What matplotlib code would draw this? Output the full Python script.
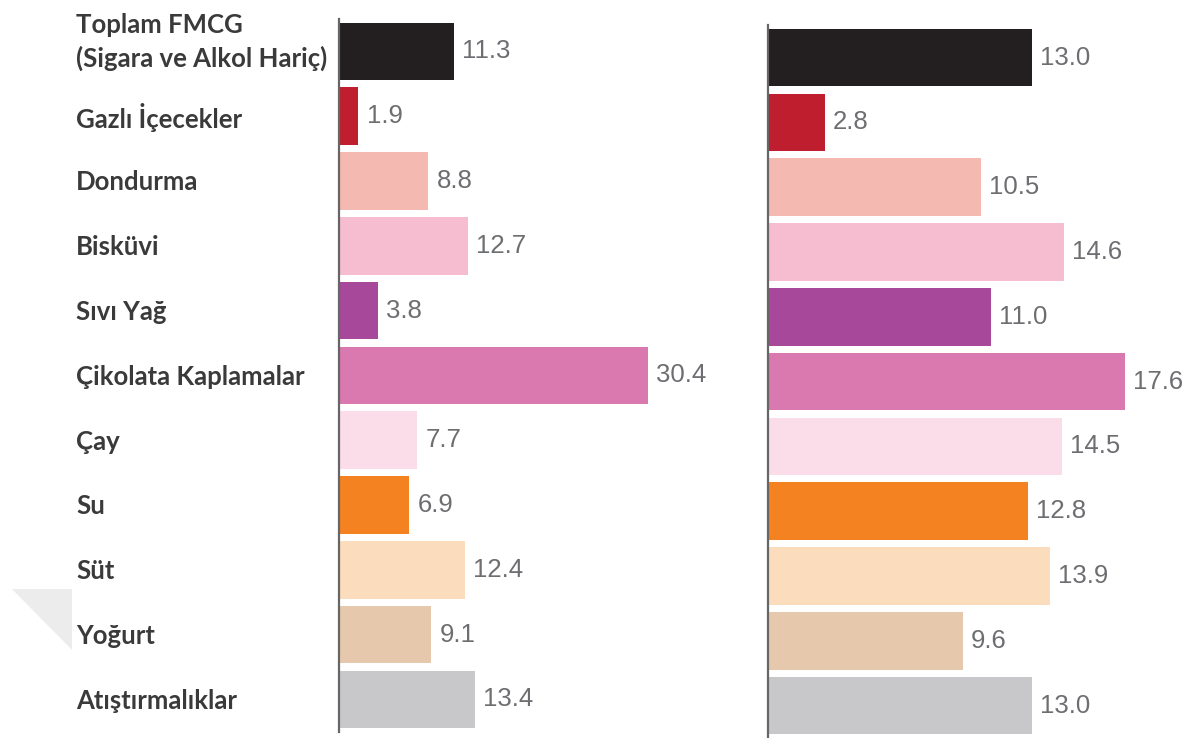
import matplotlib
matplotlib.use("Agg")
import matplotlib.pyplot as plt
from matplotlib.patches import Polygon
from matplotlib.transforms import blended_transform_factory

categories = ["Toplam FMCG\n(Sigara ve Alkol Hariç)", "Gazlı İçecekler", "Dondurma", "Bisküvi",
              "Sıvı Yağ", "Çikolata Kaplamalar", "Çay", "Su", "Süt", "Yoğurt", "Atıştırmalıklar"]
left_values = [11.3, 1.9, 8.8, 12.7, 3.8, 30.4, 7.7, 6.9, 12.4, 9.1, 13.4]
right_values = [13.0, 2.8, 10.5, 14.6, 11.0, 17.6, 14.5, 12.8, 13.9, 9.6, 13.0]
colors = ["#231f20", "#be1e2d", "#f4b9b0", "#f6bccf", "#a8489a", "#d979b0",
          "#fbdde9", "#f58220", "#fbdcbd", "#e6c9ad", "#c8c8ca"]

W, H = 1192, 738
fig = plt.figure(figsize=(W / 100, H / 100), dpi=100)

# faint decorative triangle bottom-left
fig.patches.append(Polygon([(12 / W, 1 - 589 / H), (72 / W, 1 - 589 / H), (72 / W, 1 - 650 / H)],
                           closed=True, transform=fig.transFigure, facecolor="#ececec",
                           edgecolor="none", zorder=0))

val_font = ["Liberation Sans", "DejaVu Sans"]


def panel(ax, values, xmax):
    y = list(range(len(values)))
    ax.barh(y, values, height=0.887, color=colors, zorder=2)
    ax.set_xlim(0, xmax)
    ax.set_ylim(len(values) - 0.5, -0.5)
    for s in ["top", "right", "bottom"]:
        ax.spines[s].set_visible(False)
    ax.spines["left"].set_color("#666666")
    ax.spines["left"].set_linewidth(1.6)
    ax.set_xticks([])
    ax.set_yticks([])
    ax.patch.set_alpha(0)
    for yi, v in zip(y, values):
        ax.annotate(f"{v:.1f}", (v, yi), xytext=(6, 0), textcoords="offset points",
                    ha="left", va="center", fontsize=18.5, color="#6d6e71",
                    family=val_font)


ax1 = fig.add_axes([339 / W, 1 - 731.85 / H, 400 / W, 712.85 / H])
panel(ax1, left_values, 400 / 10.15)

ax2 = fig.add_axes([768 / W, 0.0, 424 / W, 712.85 / H])
panel(ax2, right_values, 424 / 20.28)

tr = blended_transform_factory(fig.transFigure, ax1.transData)
for i, c in enumerate(categories):
    yy = i - 0.14 if "\n" in c else i + 0.02
    ax1.text(76 / W, yy, c, transform=tr, ha="left", va="center", fontsize=18.5,
             family=["Lato", "DejaVu Sans"], fontweight="bold", color="#3a3a3a",
             linespacing=1.4)

fig.savefig("out.png", dpi=100)
